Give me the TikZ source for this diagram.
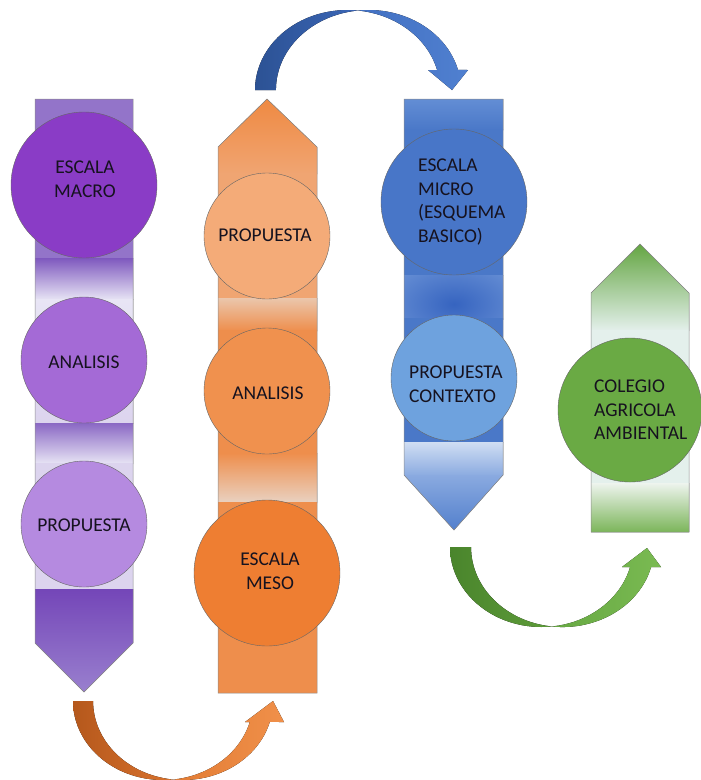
\documentclass[tikz,border=0pt]{standalone}
\usepackage{fontspec}
\setmainfont{Carlito}
\definecolor{txt}{HTML}{16121F}
\definecolor{pA}{HTML}{9374C9}
\definecolor{pSh}{HTML}{7E58BE}
\definecolor{pSh2}{HTML}{8A68C4}
\definecolor{pW}{HTML}{E8E5F5}
\definecolor{pL}{HTML}{DCD4EE}
\definecolor{pD}{HTML}{7446B8}
\definecolor{pT}{HTML}{9C84D0}
\definecolor{oA}{HTML}{EF8840}
\definecolor{oB}{HTML}{F0A572}
\definecolor{oW}{HTML}{EBC6AC}
\definecolor{oM}{HTML}{EE8E4C}
\definecolor{oP}{HTML}{E9D2C2}
\definecolor{bA}{HTML}{6690D6}
\definecolor{bM}{HTML}{4A78C8}
\definecolor{bW}{HTML}{6A92D6}
\definecolor{bD}{HTML}{3664C0}
\definecolor{bP}{HTML}{D0DEF3}
\definecolor{bQ}{HTML}{8AAAE0}
\definecolor{bT}{HTML}{4E7CCB}
\definecolor{gA}{HTML}{5EA23A}
\definecolor{gW}{HTML}{E4F0EC}
\definecolor{gP}{HTML}{EEF4EE}
\definecolor{gT}{HTML}{72B04E}
\definecolor{cMacro}{HTML}{8A3CC6}
\definecolor{cPan}{HTML}{A46AD6}
\definecolor{cPpr}{HTML}{B58AE0}
\definecolor{cOpr}{HTML}{F4AB78}
\definecolor{cOan}{HTML}{F0914E}
\definecolor{cMeso}{HTML}{EE7E32}
\definecolor{cMicro}{HTML}{4876C8}
\definecolor{cCtx}{HTML}{6EA2DE}
\definecolor{cCol}{HTML}{6AAA44}
\definecolor{aO1}{HTML}{B5581C}
\definecolor{aO2}{HTML}{D8722E}
\definecolor{aO3}{HTML}{E27C34}
\definecolor{aO4}{HTML}{F0904A}
\definecolor{aB1}{HTML}{2C5294}
\definecolor{aB2}{HTML}{3B66B6}
\definecolor{aB3}{HTML}{4270C2}
\definecolor{aB4}{HTML}{5080D0}
\definecolor{aG1}{HTML}{4A852C}
\definecolor{aG2}{HTML}{5E9C3A}
\definecolor{aG3}{HTML}{66A842}
\definecolor{aG4}{HTML}{7ABA52}
\begin{document}
\begin{tikzpicture}[x=1pt,y=-1pt,
  colline/.style={draw=black!45,line width=0.5pt},
  ball/.style={circle,inner sep=0pt,draw=black!60,line width=0.4pt},
  lbl/.style={inner sep=0pt,text=txt,font=\fontsize{19.5}{23.5}\selectfont}]
\useasboundingbox (0,0) rectangle (701,780);

% ---------- purple column ----------
\begin{scope}
\clip (35,99) -- (133,99) -- (133,643) -- (84,692) -- (35,643) -- cycle;
\fill[pA] (30,95) rectangle (140,259);
\fill[top color=pSh,bottom color=pW] (30,258) rectangle (140,300);
\fill[top color=pW,bottom color=pL] (30,299) rectangle (140,424);
\fill[top color=pSh2,bottom color=pW] (30,423) rectangle (140,464);
\fill[pL] (30,463) rectangle (140,590);
\fill[top color=pD,bottom color=pT] (30,589) rectangle (140,700);
\end{scope}
\draw[colline] (35,99) -- (133,99) -- (133,643) -- (84,692) -- (35,643) -- cycle;

% ---------- orange column ----------
\begin{scope}
\clip (218,147) -- (267,99) -- (317,147) -- (317,693) -- (218,693) -- cycle;
\fill[top color=oA,bottom color=oB] (210,95) rectangle (325,174);
\fill[oB] (210,173) rectangle (325,299);
\fill[top color=oW,bottom color=oM] (210,298) rectangle (325,331);
\fill[oM] (210,330) rectangle (325,454);
\fill[top color=oM,bottom color=oP] (210,453) rectangle (325,503);
\fill[oM] (210,502) rectangle (325,700);
\end{scope}
\draw[colline] (218,147) -- (267,99) -- (317,147) -- (317,693) -- (218,693) -- cycle;

% ---------- blue column ----------
\begin{scope}
\clip (404,99) -- (503,99) -- (503,475) -- (454,530) -- (404,475) -- cycle;
\fill[top color=bA,bottom color=bM] (400,95) rectangle (510,130);
\fill[bM] (400,129) rectangle (510,276);
\begin{scope}
\clip (400,275) rectangle (510,319);
\fill[inner color=bD,outer color=bW] (454,304) ellipse[x radius=80,y radius=48];
\end{scope}
\fill[bM] (400,318) rectangle (510,443);
\fill[top color=bP,bottom color=bQ] (400,442) rectangle (510,476);
\fill[top color=bQ,bottom color=bT] (400,475) rectangle (510,535);
\end{scope}
\draw[colline] (404,99) -- (503,99) -- (503,475) -- (454,530) -- (404,475) -- cycle;

% ---------- green column ----------
\begin{scope}
\clip (591,293) -- (640,244) -- (689,293) -- (689,532) -- (591,532) -- cycle;
\fill[top color=gA,bottom color=gW] (585,240) rectangle (695,331);
\fill[gW] (585,330) rectangle (695,484);
\fill[top color=gP,bottom color=gT] (585,483) rectangle (695,536);
\end{scope}
\draw[colline] (591,293) -- (640,244) -- (689,293) -- (689,532) -- (591,532) -- cycle;

% ---------- orange curved arrow ----------
\fill[left color=aO1,right color=aO2]
  (73,701) arc[start angle=180,end angle=83.6,x radius=90,y radius=79]
  arc[start angle=96.4,end angle=180,x radius=90,y radius=79] -- cycle;
\fill[left color=aO3,right color=aO4]
  (173,779.5) arc[start angle=96.4,end angle=15.4,x radius=90,y radius=79]
  -- (284,722) -- (273,701) -- (245,722) -- (249.8,722)
  arc[start angle=15.4,end angle=83.6,x radius=90,y radius=79] -- cycle;

% ---------- blue curved arrow ----------
\fill[left color=aB1,right color=aB2]
  (255,90) arc[start angle=180,end angle=276.5,x radius=92.5,y radius=80]
  arc[start angle=263.5,end angle=180,x radius=92.5,y radius=80] -- cycle;
\fill[left color=aB3,right color=aB4]
  (358,10.5) arc[start angle=263.5,end angle=345.5,x radius=92.5,y radius=80]
  -- (468,70) -- (452,90) -- (428,70) -- (437.1,70)
  arc[start angle=345.5,end angle=276.5,x radius=92.5,y radius=80] -- cycle;

% ---------- green curved arrow ----------
\fill[left color=aG1,right color=aG2]
  (450,547) arc[start angle=180,end angle=83.4,x radius=91.5,y radius=80]
  arc[start angle=96.6,end angle=180,x radius=91.5,y radius=80] -- cycle;
\fill[left color=aG3,right color=aG4]
  (552,626.5) arc[start angle=96.6,end angle=14.5,x radius=91.5,y radius=80]
  -- (661,567) -- (647,548) -- (622,567) -- (630.1,567)
  arc[start angle=14.5,end angle=83.4,x radius=91.5,y radius=80] -- cycle;

% ---------- circles ----------
\node[ball,fill=cMacro,minimum size=146pt] (macro) at (84,185) {};
\node[ball,fill=cPan,minimum size=126pt] (pan) at (84,360) {};
\node[ball,fill=cPpr,minimum size=126pt] (ppr) at (84,524) {};
\node[ball,fill=cOpr,minimum size=126pt] (opr) at (267,236) {};
\node[ball,fill=cOan,minimum size=126pt] (oan) at (267,391) {};
\node[ball,fill=cMeso,minimum size=146pt] (meso) at (267,573) {};
\node[ball,fill=cMicro,minimum size=146pt] (micro) at (454,202) {};
\node[ball,fill=cCtx,minimum size=126pt] (ctx) at (454,378) {};
\node[ball,fill=cCol,minimum size=144pt] (col) at (630,410) {};

% ---------- texts ----------
\node[lbl,align=center] (tmacro) at (85,179) {ESCALA\\MACRO};
\node[lbl] (tpan) at (84,362) {ANALISIS};
\node[lbl] (tppr) at (84,525) {PROPUESTA};
\node[lbl] (topr) at (265,235) {PROPUESTA};
\node[lbl] (toan) at (268,393) {ANALISIS};
\node[lbl,align=center] (tmeso) at (270,571) {ESCALA\\MESO};
\node[lbl,align=left,anchor=west] (tmicro) at (418,202) {ESCALA\\MICRO\\(ESQUEMA\\BASICO)};
\node[lbl,align=left,anchor=west] (tctx) at (409,384) {PROPUESTA\\CONTEXTO};
\node[lbl,align=left,anchor=west] (tcol) at (594,410) {COLEGIO\\AGRICOLA\\AMBIENTAL};
\end{tikzpicture}
\end{document}
